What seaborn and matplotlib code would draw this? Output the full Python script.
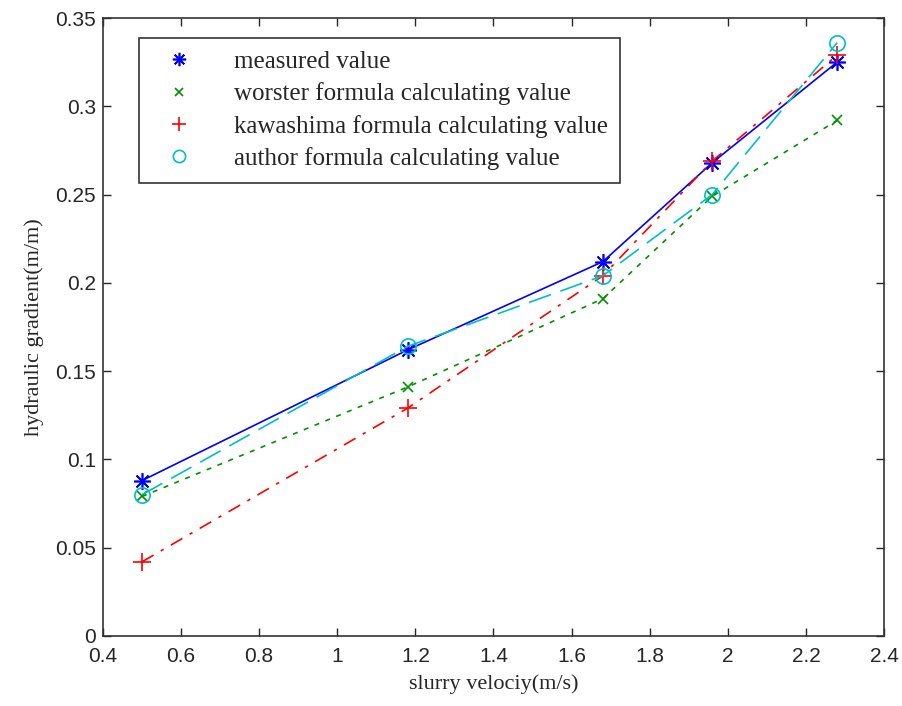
import matplotlib
matplotlib.use("Agg")
import matplotlib.pyplot as plt
import seaborn as sns
from matplotlib.lines import Line2D

# slurry velocity (m/s) at the measuring points
velocity = [0.5, 1.18, 1.68, 1.96, 2.28]

# hydraulic gradient (m/m)
measured = [0.088, 0.162, 0.212, 0.268, 0.325]
worster = [0.079, 0.141, 0.191, 0.249, 0.292]
kawashima = [0.042, 0.129, 0.204, 0.269, 0.329]
author = [0.080, 0.164, 0.204, 0.250, 0.336]

labels = [
    "measured value",
    "worster formula calculating value",
    "kawashima formula calculating value",
    "author formula calculating value",
]

sns.set_style("ticks")
plt.rcParams["font.family"] = ["Liberation Serif", "DejaVu Serif"]

fig = plt.figure(figsize=(9.03, 7.06), dpi=100)
ax = fig.add_axes([0.114, 0.0992, 0.865, 0.8753])

styles = [
    (measured, "blue", "-", (8, 2, 0), 12),
    (worster, "#009000", (0, (3, 4)), "x", 7),
    (kawashima, "red", (0, (8, 5, 2, 5)), "+", 13),
    (author, "#00c0c0", (0, (14, 6)), "o", 11),
]

handles = []
for (vals, color, ls, mk, ms), lab in zip(styles, labels):
    sns.lineplot(x=velocity, y=vals, ax=ax, color=color, linestyle=ls,
                 linewidth=1.2, marker=mk, markersize=ms,
                 markerfacecolor="none", markeredgecolor=color,
                 markeredgewidth=1.2)
    handles.append(Line2D([], [], linestyle="none", marker=mk, color=color,
                          markersize=ms * 0.8, markerfacecolor="none",
                          markeredgewidth=1.2, label=lab))

ax.set_xlim(0.4, 2.4)
ax.set_ylim(0, 0.35)
ax.set_xticks([0.4, 0.6, 0.8, 1.0, 1.2, 1.4, 1.6, 1.8, 2.0, 2.2, 2.4])
ax.set_xticklabels(["0.4", "0.6", "0.8", "1", "1.2", "1.4", "1.6", "1.8", "2", "2.2", "2.4"])
ax.set_yticks([0, 0.05, 0.1, 0.15, 0.2, 0.25, 0.3, 0.35])
ax.set_yticklabels(["0", "0.05", "0.1", "0.15", "0.2", "0.25", "0.3", "0.35"])
ax.tick_params(direction="in", top=True, right=True, length=6, width=1,
               labelsize=15)
ax.tick_params(axis="x", pad=8)
ax.tick_params(axis="y", pad=5)
for lbl in ax.get_xticklabels() + ax.get_yticklabels():
    lbl.set_family(["Liberation Sans Narrow", "Liberation Sans", "DejaVu Sans"])
for sp in ax.spines.values():
    sp.set_visible(True)
    sp.set_linewidth(1.2)
    sp.set_color("#333333")

ax.set_xlabel("slurry velociy(m/s)", fontsize=16, labelpad=6)
ax.set_ylabel("hydraulic gradient(m/m)", fontsize=16, labelpad=8)

leg = ax.legend(handles=handles, loc="upper left",
                bbox_to_anchor=(0.046, 0.968), borderaxespad=0,
                fontsize=18, frameon=True, fancybox=False, edgecolor="black",
                handletextpad=1.1, borderpad=0.5, labelspacing=0.38,
                handlelength=2.2)
leg.get_frame().set_linewidth(1.2)

fig.savefig("out.png", dpi=100)
